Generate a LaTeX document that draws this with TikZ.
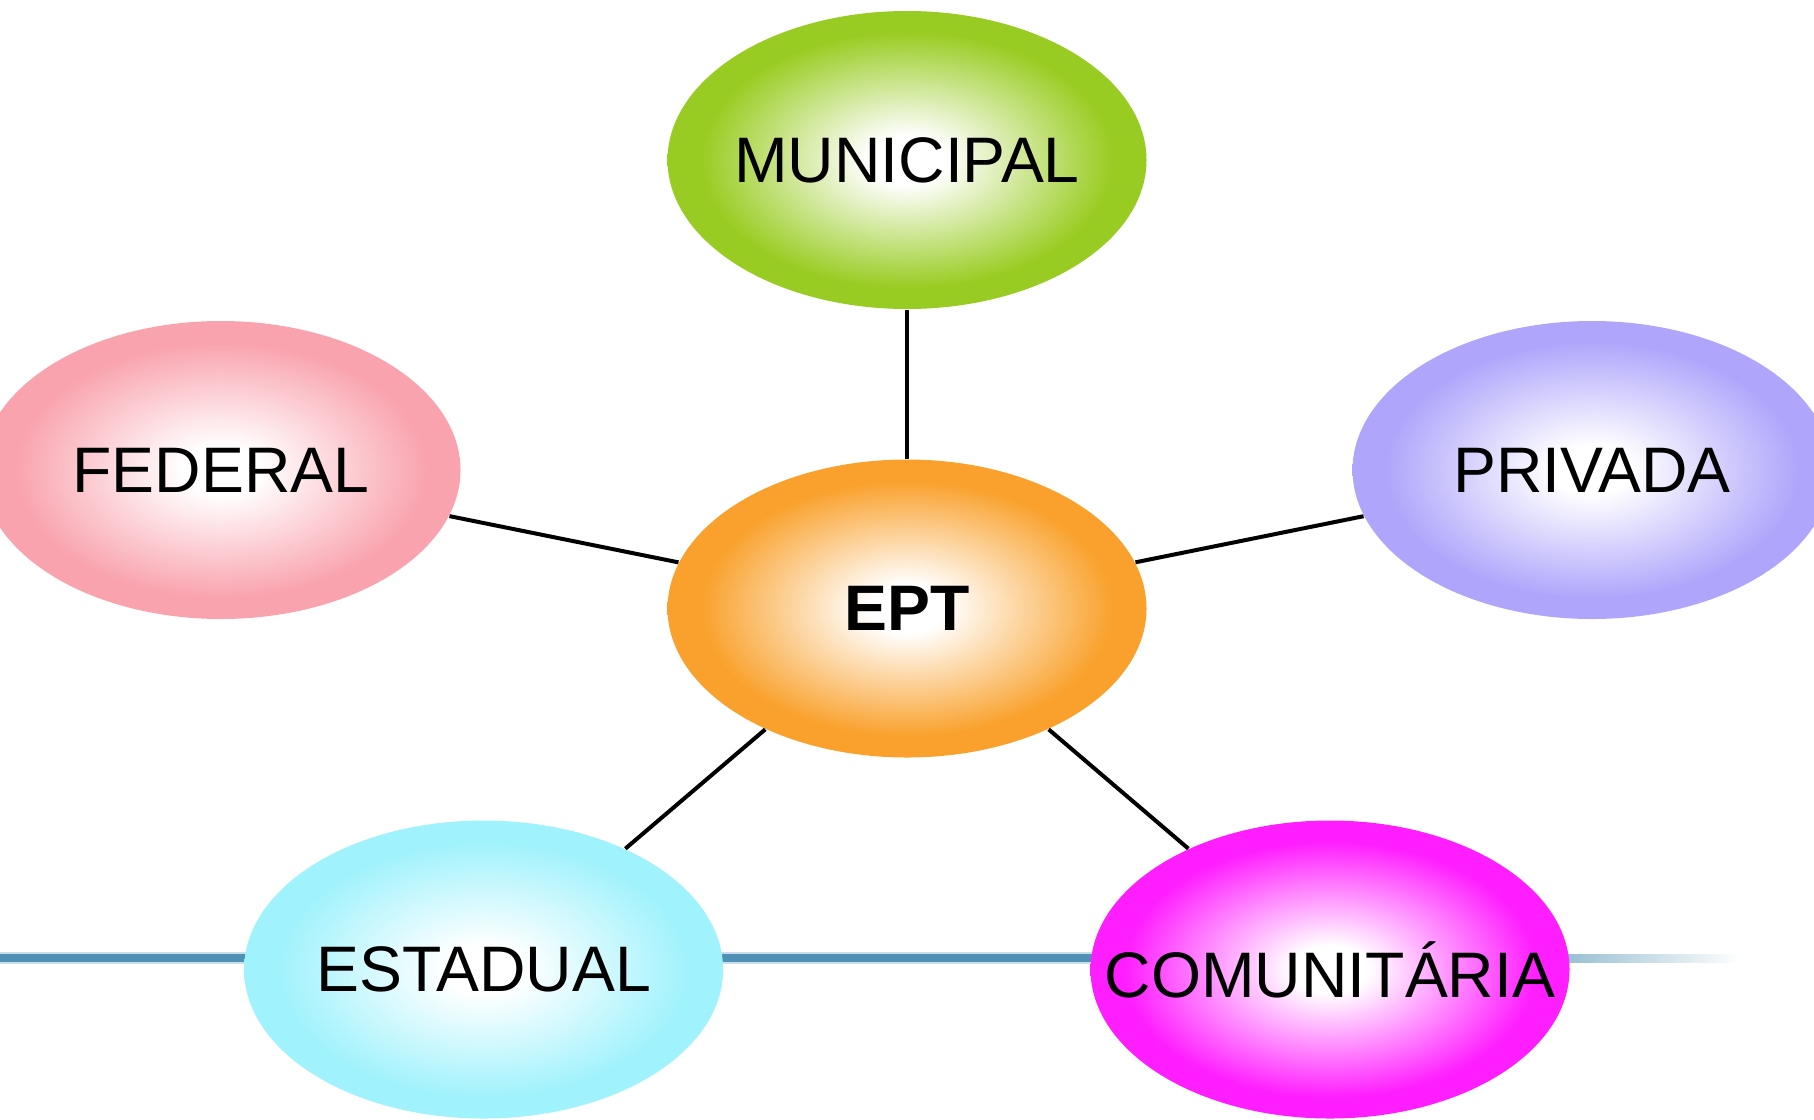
\documentclass[tikz,border=0pt]{standalone}
\usepackage{fontspec}
\setmainfont{Liberation Sans}
\usepackage{tikz}
\usetikzlibrary{shapes.geometric}

\definecolor{fedpink}{RGB}{249,163,174}
\definecolor{munigreen}{RGB}{153,204,34}
\definecolor{privlilac}{RGB}{175,166,251}
\definecolor{eptorange}{RGB}{249,161,44}
\definecolor{estcyan}{RGB}{160,242,252}
\definecolor{comumagenta}{RGB}{255,30,255}
\definecolor{barblue}{RGB}{78,145,180}

\newcommand\glowshading[2]{%
  \pgfdeclareradialshading{#1}{\pgfpoint{0bp}{0bp}}{%
    color(0bp)=(white); color(4bp)=(white);
    color(21.5bp)=(#2); color(25bp)=(#2); color(50bp)=(#2)}}
\glowshading{glowfed}{fedpink}
\glowshading{glowmuni}{munigreen}
\glowshading{glowpriv}{privlilac}
\glowshading{glowept}{eptorange}
\glowshading{glowest}{estcyan}
\glowshading{glowcomu}{comumagenta}

\newcommand\entname[1]{\makebox[0pt]{#1}}

\tikzset{
  ent/.style={ellipse, minimum width=4.79cm, minimum height=2.98cm,
    inner sep=0pt, font=\fontsize{18.3}{20}\selectfont},
  link/.style={line width=0.4mm, black}
}

\begin{document}
\begin{tikzpicture}
  \useasboundingbox (0,0) rectangle (18.14,11.19);
  \clip (0,0) rectangle (18.14,11.19);

  % blue bar at the bottom
  \fill[barblue] (0,1.57) rectangle (15.6,1.65);
  \fill[left color=barblue!60, right color=white] (15.6,1.57) rectangle (17.4,1.65);
  \fill[barblue!30] (0,1.55) rectangle (15.6,1.57);
  \fill[barblue!30] (0,1.65) rectangle (15.6,1.67);

  \node[ent, shading=glowept] (ept) at (9.07,5.105) {\entname{\textbf{EPT}}};
  \node[ent, shading=glowmuni] (muni) at (9.07,9.59) {\entname{MUNICIPAL}};
  \node[ent, shading=glowfed] (fed) at (2.21,6.49) {\entname{FEDERAL}};
  \node[ent, shading=glowpriv] (priv) at (15.92,6.49) {\entname{PRIVADA}};
  \node[ent, shading=glowest] (est) at (4.836,1.495) {\entname{ESTADUAL}};
  \node[ent, shading=glowcomu] (comu) at (13.30,1.495) {\entname{COMUNITÁRIA}};

  \draw[link] (ept) -- (muni);
  \draw[link] (ept) -- (fed);
  \draw[link] (ept) -- (priv);
  \draw[link] (ept) -- (est);
  \draw[link] (ept) -- (comu);
\end{tikzpicture}
\end{document}
